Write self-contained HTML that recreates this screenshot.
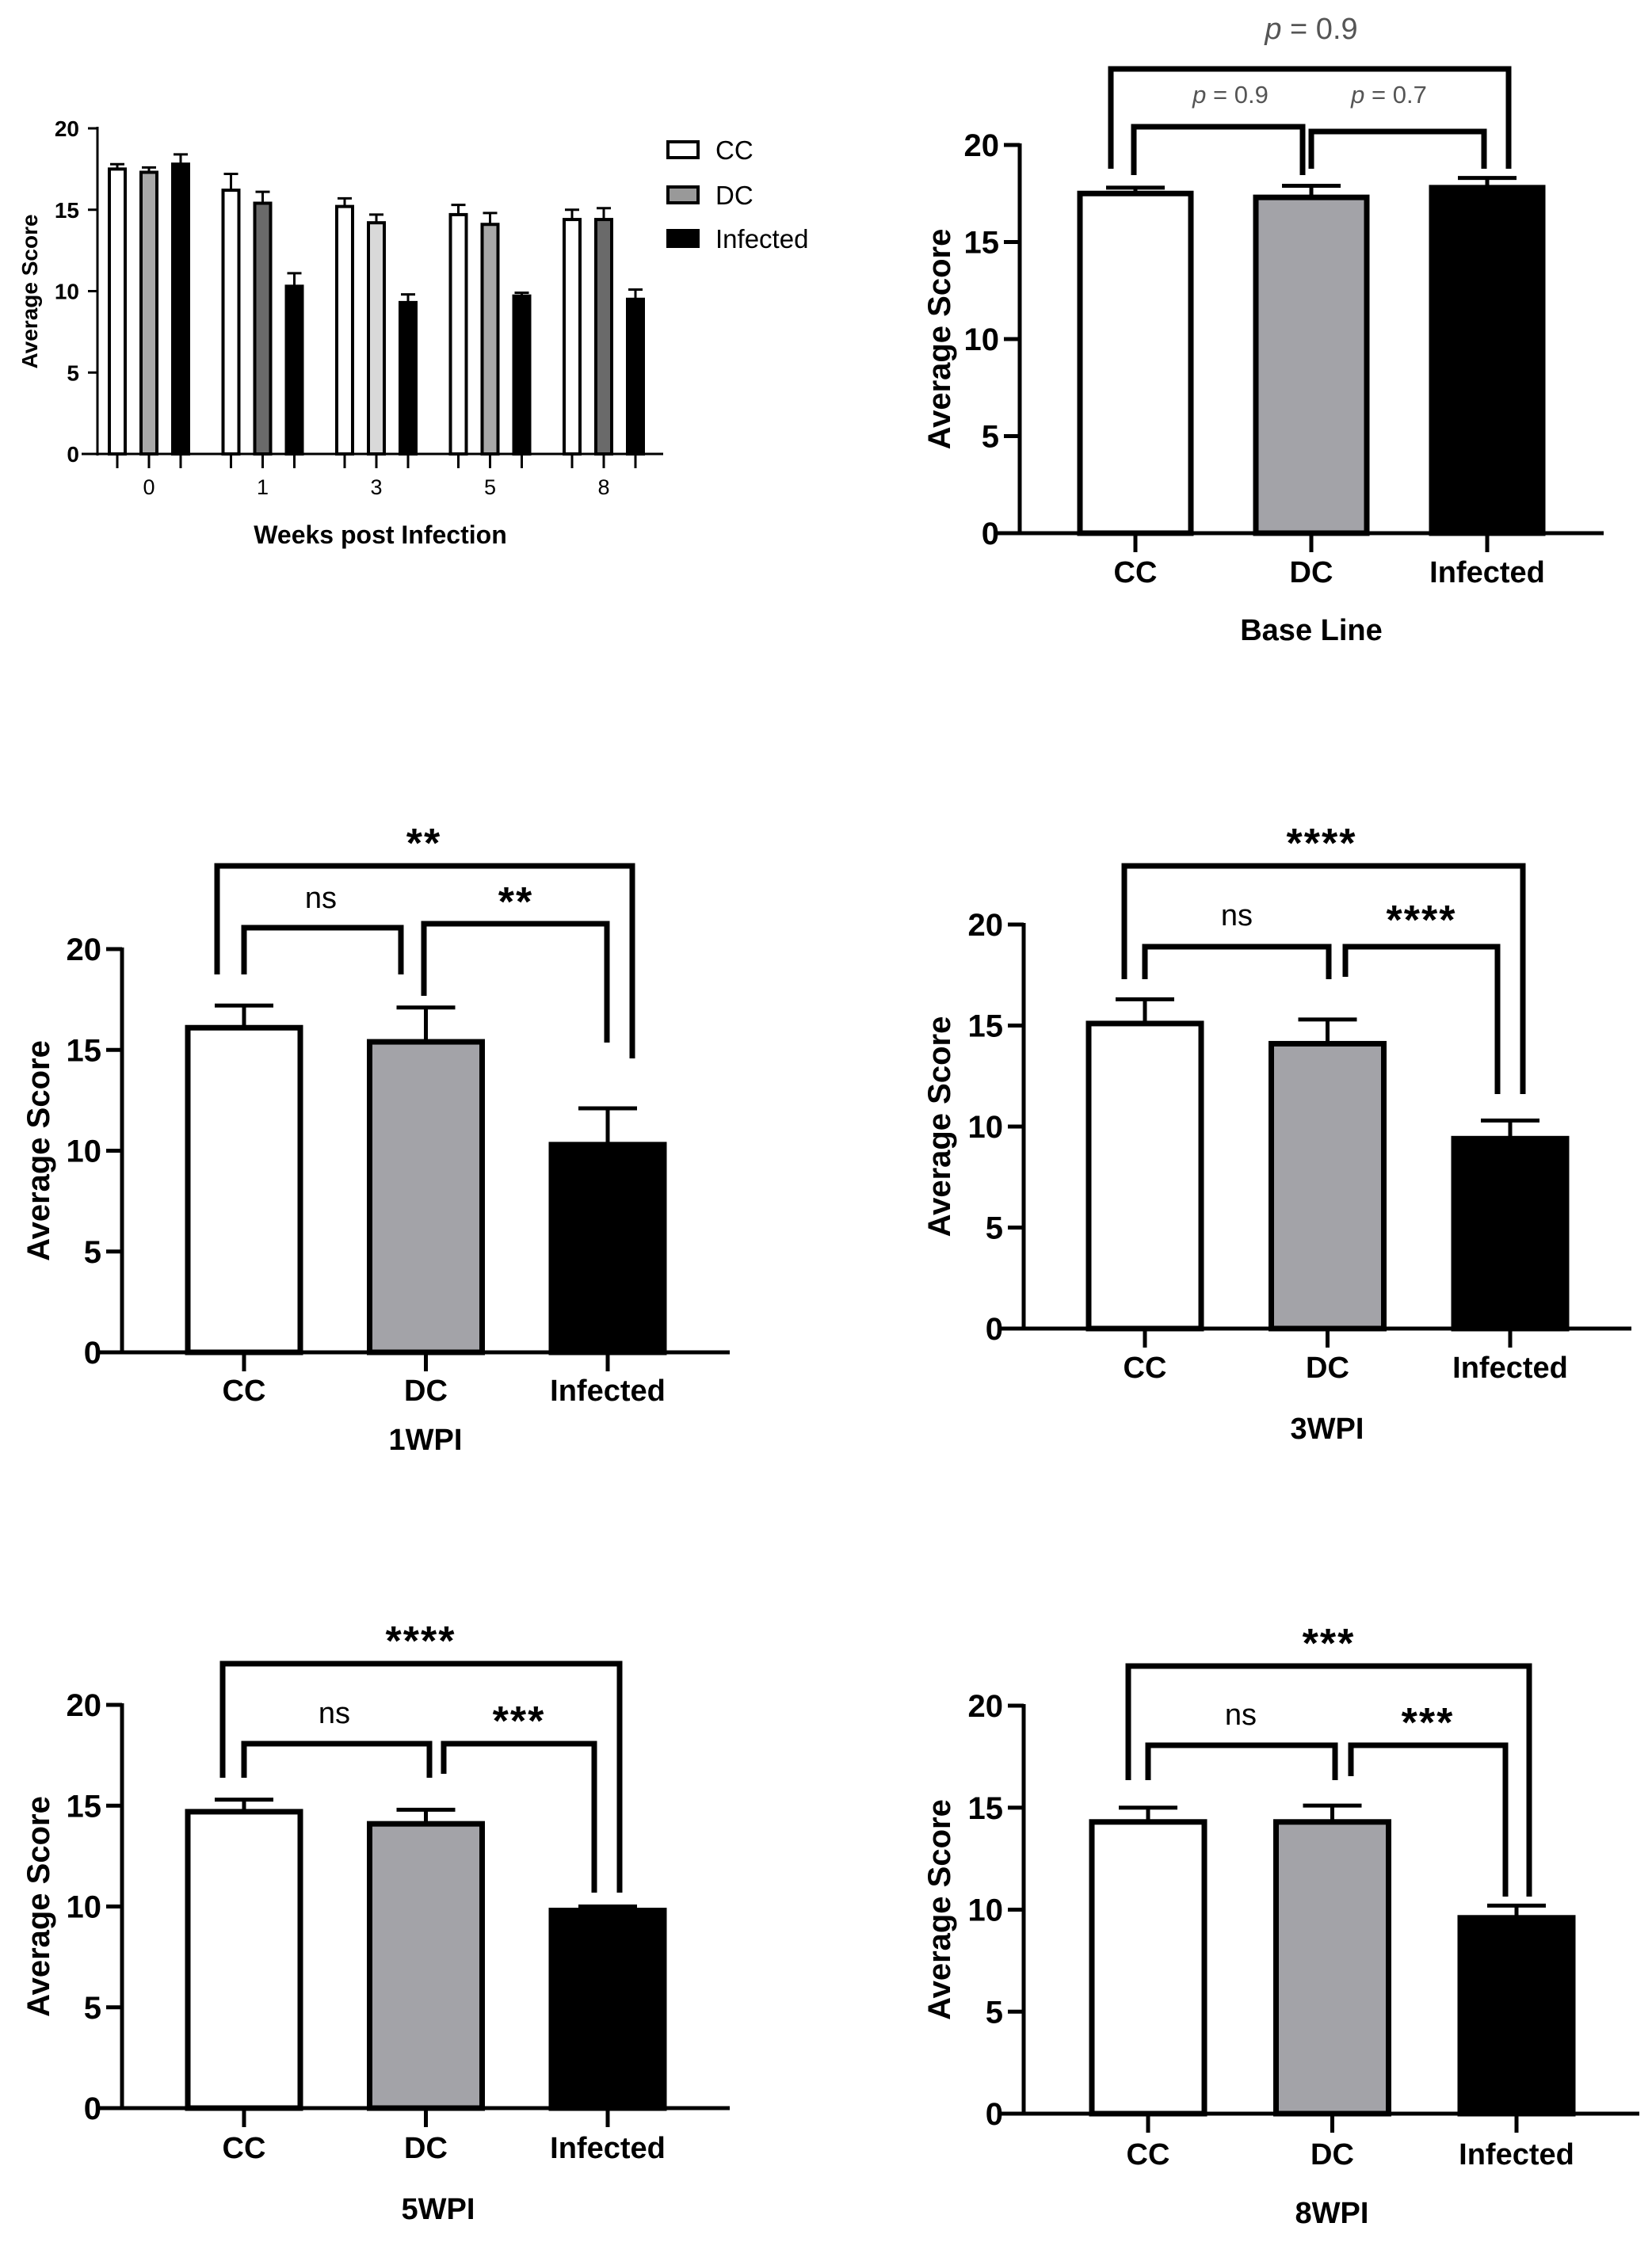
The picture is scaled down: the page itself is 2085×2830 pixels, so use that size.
<!DOCTYPE html>
<html><head><meta charset="utf-8">
<style>
html,body{margin:0;padding:0;background:#fff;}
svg{display:block;font-family:"Liberation Sans",Arial,sans-serif;}
</style></head>
<body>
<svg id="fig" width="2085" height="2830" viewBox="0 0 2085 2830" xmlns="http://www.w3.org/2000/svg">
<rect width="2085" height="2830" fill="#fff"/>
</svg>
<script>
// ---------- DATA ----------
const weeks = ["0","1","3","5","8"];
const groupNames = ["CC","DC","Infected"];
const ccWeekly = [17.5,16.2,15.2,14.7,14.4];
const ccWeeklyErr = [0.3,1.0,0.5,0.6,0.6];
const dcWeekly = [17.3,15.4,14.2,14.1,14.4];
const dcWeeklyErr = [0.3,0.7,0.5,0.7,0.7];
const infWeekly = [17.8,10.3,9.3,9.7,9.5];
const infWeeklyErr = [0.6,0.8,0.5,0.2,0.6];
const yTicks = [0,5,10,15,20];

const baseValues = [17.5,17.3,17.8];
const baseErrors = [0.3,0.6,0.5];
const wpi1Values = [16.1,15.4,10.3];
const wpi1Errors = [1.1,1.7,1.8];
const wpi3Values = [15.1,14.1,9.4];
const wpi3Errors = [1.2,1.2,0.9];
const wpi5Values = [14.7,14.1,9.8];
const wpi5Errors = [0.6,0.7,0.2];
const wpi8Values = [14.3,14.3,9.6];
const wpi8Errors = [0.7,0.8,0.6];

const baseSig = ["p = 0.9","p = 0.9","p = 0.7"];
const wpi1Sig = ["**","ns","**"];
const wpi3Sig = ["****","ns","****"];
const wpi5Sig = ["****","ns","***"];
const wpi8Sig = ["***","ns","***"];

// ---------- HELPERS ----------
const NS="http://www.w3.org/2000/svg";
const svg=document.getElementById('fig');
function el(tag,attrs,parent){const e=document.createElementNS(NS,tag);for(const k in attrs)e.setAttribute(k,attrs[k]);(parent||svg).appendChild(e);return e;}
function txt(s,attrs,parent){const t=el('text',attrs,parent);t.textContent=s;return t;}

function drawPanel(cfg, values, errors, sig, name){
  const g=el('g',{});
  
  
  const ys=v=>cfg.y0-(v/20)*(cfg.y0-cfg.yTop);
  const xs=i=>cfg.c0+i*cfg.step;
  // bars
  const fills=['#ffffff','#a3a3a8','#000000'];
  values.forEach((v,i)=>{
    const cx=xs(i), w=cfg.barW;
    const eTop=ys(v+errors[i]);
    const eb=el('g',{},g);
    
    
    el('line',{x1:cx,x2:cx,y1:ys(v),y2:eTop,stroke:'#000','stroke-width':5},eb);
    el('line',{x1:cx-37,x2:cx+37,y1:eTop,y2:eTop,stroke:'#000','stroke-width':5},eb);
    const r=el('rect',{x:cx-w/2,y:ys(v),width:w,height:cfg.y0-ys(v),fill:fills[i],stroke:'#000','stroke-width':7},g);
    
    
  });
  // axes
  const ax=el('g',{},g);
  
  
  el('line',{x1:cfg.ax,x2:cfg.ax,y1:cfg.yTop-2,y2:cfg.y0+2,stroke:'#000','stroke-width':5},ax);
  el('line',{x1:cfg.ax-30,x2:cfg.xEnd,y1:cfg.y0,y2:cfg.y0,stroke:'#000','stroke-width':5},ax);
  yTicks.forEach(t=>{
    el('line',{x1:cfg.ax-20,x2:cfg.ax,y1:ys(t),y2:ys(t),stroke:'#000','stroke-width':5},ax);
    const tl=txt(String(t),{x:cfg.ax-26,y:ys(t)+14,'text-anchor':'end','font-size':40,'font-weight':'bold'},ax);
    
    
  });
  groupNames.forEach((n,i)=>{
    el('line',{x1:xs(i),x2:xs(i),y1:cfg.y0,y2:cfg.y0+24,stroke:'#000','stroke-width':5},ax);
    const cl=txt(n,{x:xs(i),y:cfg.catY+14,'text-anchor':'middle','font-size':38,'font-weight':'bold'},ax);
    
    
  });
  const yt=txt('Average Score',{x:0,y:0,'text-anchor':'middle','font-size':40,'font-weight':'bold',transform:`translate(${cfg.ytX+14},${(cfg.yTop+cfg.y0)/2}) rotate(-90)`},g);
  
  
  const ti=txt(cfg.title,{x:cfg.titleX,y:cfg.titleY+14,'text-anchor':'middle','font-size':38,'font-weight':'bold'},g);
  
  
  // brackets
  cfg.brackets.forEach((b,k)=>{
    const bg=el('g',{},g);
    
    
    el('polyline',{points:`${b[0]},${b[3]} ${b[0]},${b[2]} ${b[1]},${b[2]} ${b[1]},${b[4]}`,fill:'none',stroke:'#000','stroke-width':7},bg);
    const lp=cfg.labels[k];
    const isP=sig[k].startsWith('p');
    let t;
    if(isP){
      t=el('text',{x:lp[0],y:lp[1]+12,'text-anchor':'middle','font-size':lp[2],fill:'#555'},bg);
      const ts=el('tspan',{'font-style':'italic'},t);ts.textContent='p';
      const t2=el('tspan',{},t);t2.textContent=sig[k].slice(1);
    } else if(sig[k]==='ns'){
      t=txt(sig[k],{x:lp[0],y:lp[1]+12,'text-anchor':'middle','font-size':38},bg);
    } else {
      t=txt(sig[k],{x:lp[0],y:lp[1]+22,'text-anchor':'middle','font-size':52,'font-weight':'bold','letter-spacing':'2'},bg);
    }
    
    
  });
}

// ---------- PANEL A (grouped) ----------
(function(){
  const g=el('g',{});
  
  
  const ax=123,y0=573,yTop=162,xEnd=837;
  const ys=v=>y0-(v/20)*(y0-yTop);
  const gx=i=>188+i*143.5;
  const series=[ccWeekly,dcWeekly,infWeekly];
  const errs=[ccWeeklyErr,dcWeeklyErr,infWeeklyErr];
  const dcFill=['#a8a8a8','#6a6a6a','#d9d9d9','#a8a8a8','#6a6a6a'];
  weeks.forEach((w,i)=>{
    series.forEach((s,j)=>{
      const cx=gx(i)+(j-1)*40, v=s[i], e=errs[j][i];
      const fill=j===0?'#fff':(j===1?dcFill[i]:'#000');
      el('line',{x1:cx,x2:cx,y1:ys(v),y2:ys(v+e),stroke:'#000','stroke-width':3},g);
      el('line',{x1:cx-9,x2:cx+9,y1:ys(v+e),y2:ys(v+e),stroke:'#000','stroke-width':3},g);
      const r=el('rect',{x:cx-10,y:ys(v),width:20,height:y0-ys(v),fill:fill,stroke:'#000','stroke-width':4},g);
      
      
      el('line',{x1:cx,x2:cx,y1:y0,y2:y0+18,stroke:'#000','stroke-width':3},g);
    });
    const tl=txt(w,{x:gx(i),y:614+10,'text-anchor':'middle','font-size':27},g);
    
    
  });
  el('line',{x1:ax,x2:ax,y1:yTop-2,y2:y0+2,stroke:'#000','stroke-width':3},g);
  el('line',{x1:ax-20,x2:xEnd,y1:y0,y2:y0,stroke:'#000','stroke-width':3},g);
  yTicks.forEach(t=>{
    el('line',{x1:ax-12,x2:ax,y1:ys(t),y2:ys(t),stroke:'#000','stroke-width':3},g);
    const tl=txt(String(t),{x:100,y:ys(t)+10,'text-anchor':'end','font-size':28,'font-weight':'bold'},g);
    
    
  });
  const yt=txt('Average Score',{x:0,y:0,'text-anchor':'middle','font-size':28,'font-weight':'bold',transform:'translate(47,368) rotate(-90)'},g);
  
  
  const xt=txt('Weeks post Infection',{x:480,y:686,'text-anchor':'middle','font-size':32,'font-weight':'bold'},g);
  
  
  const legFill=['#fff','#999','#000'];
  const legY=[189,246,301];
  groupNames.forEach((n,j)=>{
    const lg=el('g',{},g);
    
    
    el('rect',{x:843,y:legY[j]-10,width:38,height:20,fill:legFill[j],stroke:'#000','stroke-width':4},lg);
    txt(n,{x:903,y:legY[j]+12,'font-size':33},lg);
  });
})();

// ---------- OTHER PANELS ----------
drawPanel({ax:1287,y0:673,yTop:183,xEnd:2024,c0:1433,step:222,barW:140,catY:721,ytX:1185,title:'Base Line',titleX:1655,titleY:794,
  brackets:[[1402,1904,87,213,213],[1431,1644,160,221,221],[1655,1873,166,213,213]],
  labels:[[1655,37,38],[1553,118,31],[1753,118,31]]}, baseValues, baseErrors, baseSig, 'baseline');
drawPanel({ax:154,y0:1707,yTop:1198,xEnd:921,c0:308,step:229.5,barW:142,catY:1754,ytX:48,title:'1WPI',titleX:537,titleY:1816,
  brackets:[[274,798,1093,1230,1336],[308,506,1171,1230,1230],[535,766,1166,1257,1316]],
  labels:[[535,1060],[405,1134],[651,1134]]}, wpi1Values, wpi1Errors, wpi1Sig, 'wpi1');
drawPanel({ax:1292,y0:1677,yTop:1167,xEnd:2059,c0:1445,step:230.5,barW:142,catY:1725,ytX:1185,title:'3WPI',titleX:1675,titleY:1802,
  brackets:[[1419,1922,1093,1236,1381],[1445,1677,1195,1236,1236],[1698,1890,1195,1233,1381]],
  labels:[[1668,1060],[1561,1156],[1794,1157]]}, wpi3Values, wpi3Errors, wpi3Sig, 'wpi3');
drawPanel({ax:154,y0:2661,yTop:2152,xEnd:921,c0:308,step:229.5,barW:142,catY:2710,ytX:48,title:'5WPI',titleX:553,titleY:2787,
  brackets:[[281,782,2100,2244,2389],[308,542,2201,2244,2244],[560,750,2201,2239,2389]],
  labels:[[531,2067],[422,2163],[655,2168]]}, wpi5Values, wpi5Errors, wpi5Sig, 'wpi5');
drawPanel({ax:1292,y0:2668,yTop:2153,xEnd:2069,c0:1449,step:232.5,barW:142,catY:2718,ytX:1185,title:'8WPI',titleX:1681,titleY:2792,
  brackets:[[1424,1930,2103,2247,2394],[1449,1685,2203,2247,2247],[1705,1900,2203,2242,2394]],
  labels:[[1677,2070],[1566,2165],[1802,2170]]}, wpi8Values, wpi8Errors, wpi8Sig, 'wpi8');
</script>
</body></html>
